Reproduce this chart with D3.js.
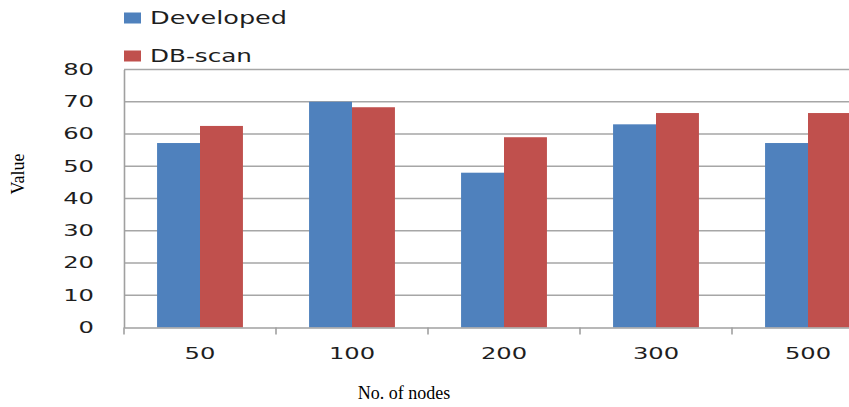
<!DOCTYPE html>
<html><head><meta charset="utf-8">
<script src="https://cdn.jsdelivr.net/npm/d3@7"></script>
<style>body{margin:0;background:#fff;overflow:hidden}</style>
</head><body>
<svg id="c" width="849" height="407"></svg>
<script>
const categories = ["50","100","200","300","500"];
const seriesNames = ["Developed","DB-scan"];
const developed = [57.2, 70, 48, 63, 57.2];
const dbscan = [62.5, 68.3, 59, 66.5, 66.5];
const yTicks = [0,10,20,30,40,50,60,70,80];
const colors = ["#4F81BD","#C0504D"];

const svg = d3.select("#c");
const mLeft = 124, mTop = 69.5, mBottom = 327.5, band = 152;
const mRight = mLeft + band * categories.length;
const x = d3.scaleBand().domain(categories).range([mLeft, mRight]).paddingInner(0).paddingOuter(0);
const y = d3.scaleLinear().domain([0,80]).range([mBottom, mTop]);
const inner = d3.scaleBand().domain(seriesNames).range([0, band]).paddingInner(0).paddingOuter(0.77);

const tickFont = "DejaVu Sans, Verdana, sans-serif";
const digitW = 15.4;

// gridlines
svg.append("g").selectAll("line").data(yTicks.filter(d=>d>0)).join("line")
  .attr("x1", mLeft).attr("x2", 849).attr("y1", d=>y(d)).attr("y2", d=>y(d))
  .attr("stroke", "#a6a6a6").attr("stroke-width", 1.6);

// bars
const data = categories.map((c,i)=>({c, vals:[developed[i], dbscan[i]]}));
const groups = svg.append("g").selectAll("g").data(data).join("g")
  .attr("transform", d=>`translate(${x(d.c)},0)`);
groups.selectAll("rect").data(d=>d.vals.map((v,j)=>({v, s:seriesNames[j], j}))).join("rect")
  .attr("x", d=>inner(d.s)).attr("width", inner.bandwidth())
  .attr("y", d=>y(d.v)).attr("height", d=>mBottom - y(d.v))
  .attr("fill", d=>colors[d.j]);

// y axis
const yAxis = d3.axisLeft(y).tickValues(yTicks).tickSize(0).tickPadding(30);
const ya = svg.append("g").attr("transform", `translate(${mLeft},0)`).call(yAxis);
ya.select(".domain").attr("stroke", "#a0a0a0").attr("stroke-width", 1.6);
ya.selectAll("text").attr("font-family", tickFont).attr("font-size", 15).attr("fill", "#1e1e1e")
  .attr("textLength", d=>String(d).length*digitW).attr("lengthAdjust", "spacingAndGlyphs");

// x axis
const xAxis = d3.axisBottom(x).tickSize(0).tickPadding(21);
const xa = svg.append("g").attr("transform", `translate(0,${mBottom})`).call(xAxis);
xa.select(".domain").attr("stroke", "#a0a0a0").attr("stroke-width", 1.6);
xa.selectAll("text").attr("font-family", tickFont).attr("font-size", 15).attr("fill", "#1e1e1e")
  .attr("textLength", d=>String(d).length*digitW).attr("lengthAdjust", "spacingAndGlyphs");
// category boundary ticks
svg.append("g").selectAll("line").data(categories).join("line")
  .attr("x1", d=>x(d)).attr("x2", d=>x(d)).attr("y1", mBottom).attr("y2", mBottom+7)
  .attr("stroke", "#a0a0a0").attr("stroke-width", 1.6);

// axis titles
svg.append("text").attr("transform", "translate(24,174) rotate(-90)")
  .attr("text-anchor", "middle").attr("font-family", "Liberation Serif, Times New Roman, serif")
  .attr("font-size", 18).attr("fill", "#000").text("Value");
svg.append("text").attr("x", 404).attr("y", 399)
  .attr("text-anchor", "middle").attr("font-family", "Liberation Serif, Times New Roman, serif")
  .attr("font-size", 18).attr("fill", "#000").text("No. of nodes");

// legend
const legendW = [137, 102];
const lg = svg.append("g").selectAll("g").data(seriesNames).join("g")
  .attr("transform", (d,i)=>`translate(124,${12.5 + i*38})`);
lg.append("rect").attr("width", 17).attr("height", 11).attr("fill", (d,i)=>colors[i]);
lg.append("text").attr("x", 26).attr("y", 11).attr("font-family", tickFont)
  .attr("font-size", 17).attr("fill", "#1e1e1e")
  .attr("textLength", (d,i)=>legendW[i]).attr("lengthAdjust", "spacingAndGlyphs").text(d=>d);
</script>
</body></html>
